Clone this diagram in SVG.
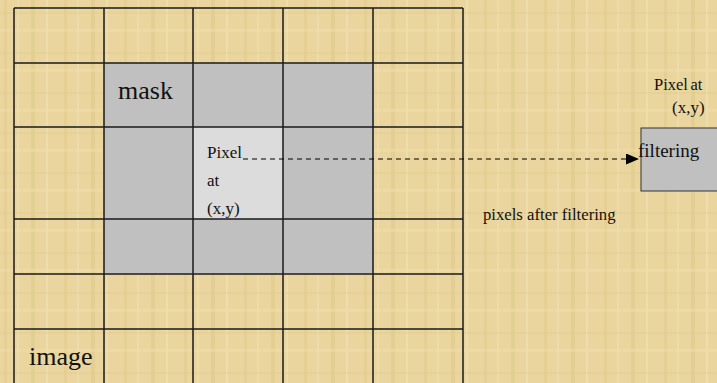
<svg xmlns="http://www.w3.org/2000/svg" width="717" height="383" viewBox="0 0 717 383">
<defs>
<pattern id="paper" width="60" height="40" patternUnits="userSpaceOnUse">
<rect width="60" height="40" fill="#e9d59d"/>
<rect x="4" width="3" height="40" fill="#e2cb8c" opacity="0.6"/>
<rect x="17" width="2" height="40" fill="#f0e0b0" opacity="0.7"/>
<rect x="31" width="4" height="40" fill="#dcc585" opacity="0.4"/>
<rect x="46" width="2" height="40" fill="#f2e2b6" opacity="0.6"/>
<rect y="12" width="60" height="2" fill="#dfc88a" opacity="0.35"/>
<rect y="29" width="60" height="3" fill="#f0dfae" opacity="0.4"/>
</pattern>
<marker id="arr" viewBox="0 0 13 11" refX="13" refY="5.5" markerWidth="13" markerHeight="11" markerUnits="userSpaceOnUse" orient="auto">
<path d="M0,0 L13,5.5 L0,11 Z" fill="#000"/>
</marker>
<style>
.grid{stroke:#1a1a1a;stroke-width:1.5;fill:none}
</style>
</defs>
<rect width="717" height="383" fill="url(#paper)"/>
<g font-family="'Liberation Serif', 'Times New Roman', serif" fill="#111">
<g id="mask">
<rect x="104" y="63" width="269" height="210" fill="#c0c0c0"/>
<text x="118" y="99" font-size="26">mask</text>
</g>
<g id="pixel">
<rect x="193" y="127" width="90" height="92" fill="#dcdcdc"/>
<text x="207" y="158" font-size="17">Pixel</text>
<text x="207" y="186" font-size="17">at</text>
<text x="207" y="214" font-size="17">(x,y)</text>
</g>
<g id="image">
<path class="grid" d="M14,8 V390 M104,8 V390 M193,8 V390 M283,8 V390 M373,8 V390 M463,8 V390 M14,8 H463 M14,63 H463 M14,127 H463 M14,219 H463 M14,274 H463 M14,329 H463"/>
<text x="29" y="365" font-size="26">image</text>
</g>
<g id="filtering">
<rect x="641" y="128" width="80" height="63" fill="#c0c0c0" stroke="#333" stroke-width="1"/>
<text x="638" y="157" font-size="19">filtering</text>
<text x="654" y="90" font-size="16.5" word-spacing="-1.5">Pixel at</text>
<text x="672" y="113" font-size="17">(x,y)</text>
</g>
<g id="connectors">
<line x1="243" y1="159" x2="639" y2="159" stroke="#000" stroke-width="1.2" stroke-dasharray="5,4" marker-end="url(#arr)"/>
</g>
<text x="483" y="220" font-size="16.7">pixels after filtering</text>
</g>
</svg>
